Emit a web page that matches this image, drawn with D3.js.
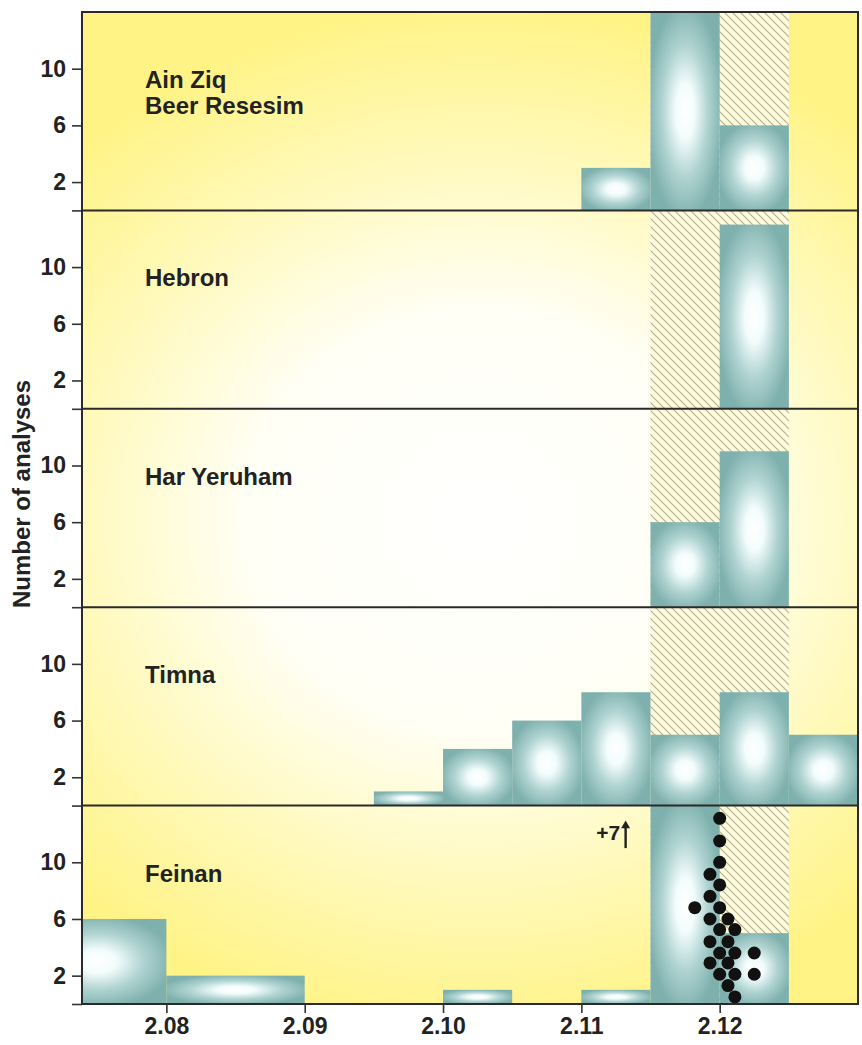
<!DOCTYPE html>
<html>
<head>
<meta charset="utf-8">
<script src="https://cdn.jsdelivr.net/npm/d3@7"></script>
<style>
  body { margin: 0; background: #fff; }
  svg { display: block; }
  text { font-family: "Liberation Sans", Arial, sans-serif; fill: #222; }
</style>
</head>
<body>
<svg id="chart" width="862" height="1045"></svg>
<script>
// Sitios (de arriba hacia abajo)
const siteNames = [["Ain Ziq", "Beer Resesim"], ["Hebron"], ["Har Yeruham"], ["Timna"], ["Feinan"]];

// Intervalos del histograma: [desde, hasta, número de análisis]
const ainZiqBins = [[2.110, 2.115, 3], [2.115, 2.120, 14], [2.120, 2.125, 6]];
const hebronBins = [[2.120, 2.125, 13]];
const harYeruhamBins = [[2.115, 2.120, 6], [2.120, 2.125, 11]];
const timnaBins = [[2.095, 2.100, 1], [2.100, 2.105, 4], [2.105, 2.110, 6], [2.110, 2.115, 8],
                   [2.115, 2.120, 5], [2.120, 2.125, 8], [2.125, 2.130, 5]];
const feinanBins = [[2.070, 2.080, 6], [2.080, 2.090, 2], [2.100, 2.105, 1], [2.110, 2.115, 1],
                    [2.115, 2.120, 14], [2.120, 2.125, 5]];
const allBins = [ainZiqBins, hebronBins, harYeruhamBins, timnaBins, feinanBins];

// Banda rayada (rango de referencia)
const hatchBand = [2.115, 2.125];

// Puntos individuales de Feinan
const feinanDotX = [2.1200, 2.1200, 2.1200, 2.1193, 2.1200, 2.1193, 2.1182, 2.1200, 2.1193, 2.1206,
                    2.1200, 2.1211, 2.1193, 2.1206, 2.1200, 2.1211, 2.1225, 2.1193, 2.1206, 2.1200,
                    2.1211, 2.1225, 2.1206, 2.1211];
const feinanDotY = [13.1, 11.5, 10.0, 9.15, 8.4, 7.6, 6.8, 6.8, 6.0, 6.0,
                    5.25, 5.25, 4.4, 4.4, 3.6, 3.6, 3.6, 2.9, 2.9, 2.1,
                    2.1, 2.1, 1.3, 0.5];

// Ejes
const xTicks = [2.08, 2.09, 2.10, 2.11, 2.12];
const yTicks = [0, 2, 6, 10];
const xDomain = [2.0739, 2.1300];
const yDomain = [0, 14];

const margin = { top: 12, right: 4, bottom: 41, left: 82 };
const W = 862, H = 1045;
const plotW = W - margin.left - margin.right;
const plotH = H - margin.top - margin.bottom;
const panelH = plotH / siteNames.length;

const svg = d3.select("#chart");
const defs = svg.append("defs");

// Fondo: degradado radial amarillo -> blanco
const bg = defs.append("radialGradient")
    .attr("id", "bgGrad")
    .attr("gradientUnits", "userSpaceOnUse")
    .attr("cx", 480).attr("cy", 520)
    .attr("r", 480)
    .attr("gradientTransform", "translate(480,520) scale(1.2,1.08) translate(-480,-520)");
[[0, "#ffffff"], [0.4, "#fffff6"], [0.72, "#fff9b8"], [1, "#fff385"]].forEach(s =>
    bg.append("stop").attr("offset", s[0]).attr("stop-color", s[1]));

// Barras: degradado turquesa con brillo central
const barGrad = defs.append("radialGradient")
    .attr("id", "barGrad")
    .attr("cx", 0.5).attr("cy", 0.5).attr("r", 0.55);
[[0, "#ffffff"], [0.25, "#f3fcfc"], [0.6, "#b0d4d2"], [1, "#7eb0ad"]].forEach(s =>
    barGrad.append("stop").attr("offset", s[0]).attr("stop-color", s[1]));

// Patrón rayado
const hatch = defs.append("pattern")
    .attr("id", "hatch")
    .attr("patternUnits", "userSpaceOnUse")
    .attr("width", 8).attr("height", 8);
hatch.append("rect").attr("width", 8).attr("height", 8).attr("fill", "#fdfae2");
hatch.append("path")
    .attr("d", "M-1,-1 L9,9 M-1,7 L1,9 M7,-1 L9,1")
    .attr("stroke", "#b9b286")
    .attr("stroke-width", 1.2);

defs.append("clipPath").attr("id", "plotClip")
    .append("rect")
    .attr("x", margin.left).attr("y", margin.top)
    .attr("width", plotW).attr("height", plotH);

const x = d3.scaleLinear().domain(xDomain).range([margin.left, margin.left + plotW]);

// Fondo general
svg.append("rect")
    .attr("x", margin.left).attr("y", margin.top)
    .attr("width", plotW).attr("height", plotH)
    .attr("fill", "url(#bgGrad)");

const plot = svg.append("g").attr("clip-path", "url(#plotClip)");

allBins.forEach((bins, i) => {
    const top = margin.top + i * panelH;
    const y = d3.scaleLinear().domain(yDomain).range([top + panelH, top]);

    // Banda rayada
    plot.append("rect")
        .attr("x", x(hatchBand[0]))
        .attr("y", top)
        .attr("width", x(hatchBand[1]) - x(hatchBand[0]))
        .attr("height", panelH)
        .attr("fill", "url(#hatch)");

    // Barras
    plot.append("g").selectAll("rect")
        .data(bins)
        .enter().append("rect")
        .attr("x", d => x(d[0]))
        .attr("y", d => y(Math.min(d[2], yDomain[1])))
        .attr("width", d => x(d[1]) - x(d[0]))
        .attr("height", d => y(0) - y(Math.min(d[2], yDomain[1])))
        .attr("fill", "url(#barGrad)");

    // Eje Y del panel
    svg.append("g")
        .attr("transform", `translate(${margin.left},0)`)
        .call(d3.axisLeft(y).tickValues(yTicks).tickSize(10).tickSizeOuter(0)
            .tickPadding(6).tickFormat(d => d === 0 ? "" : d))
        .call(g => g.select(".domain").remove())
        .call(g => g.selectAll("line").attr("stroke", "#333").attr("stroke-width", 1.6))
        .call(g => g.selectAll("text")
            .attr("font-size", 23).attr("font-weight", "bold").attr("fill", "#2a2a2a"));

    // Separador del panel
    if (i > 0) {
        svg.append("line")
            .attr("x1", margin.left).attr("x2", margin.left + plotW)
            .attr("y1", top).attr("y2", top)
            .attr("stroke", "#2a2a2a").attr("stroke-width", 2);
    }

    // Nombre del sitio
    const label = svg.append("text")
        .attr("x", 145)
        .attr("y", top + 76)
        .attr("font-size", 24)
        .attr("font-weight", "bold")
        .attr("fill", "#262626");
    siteNames[i].forEach((line, j) => {
        label.append("tspan")
            .attr("x", 145)
            .attr("dy", j === 0 ? 0 : 26)
            .text(line);
    });

    // Puntos y anotación de Feinan
    if (i === siteNames.length - 1) {
        svg.append("g").selectAll("circle")
            .data(feinanDotX.map((v, k) => [v, feinanDotY[k]]))
            .enter().append("circle")
            .attr("cx", d => x(d[0]))
            .attr("cy", d => y(d[1]))
            .attr("r", 6.5)
            .attr("fill", "#111");

        svg.append("text")
            .attr("x", x(2.1128))
            .attr("y", y(11.6))
            .attr("text-anchor", "end")
            .attr("font-size", 21)
            .attr("font-weight", "bold")
            .text("+7");

        const ax = x(2.1132);
        svg.append("line")
            .attr("x1", ax).attr("x2", ax)
            .attr("y1", y(11.0)).attr("y2", y(12.6))
            .attr("stroke", "#222").attr("stroke-width", 2.4);
        svg.append("path")
            .attr("d", `M${ax - 4.5},${y(12.4)} L${ax},${y(12.95)} L${ax + 4.5},${y(12.4)} Z`)
            .attr("fill", "#222");
    }
});

// Marco
svg.append("rect")
    .attr("x", margin.left).attr("y", margin.top)
    .attr("width", plotW).attr("height", plotH)
    .attr("fill", "none")
    .attr("stroke", "#2a2a2a")
    .attr("stroke-width", 2);

// Eje X
svg.append("g")
    .attr("transform", `translate(0,${margin.top + plotH})`)
    .call(d3.axisBottom(x).tickValues(xTicks).tickSize(9).tickSizeOuter(0)
        .tickPadding(5).tickFormat(d3.format(".2f")))
    .call(g => g.select(".domain").remove())
    .call(g => g.selectAll("line").attr("stroke", "#333").attr("stroke-width", 1.6))
    .call(g => g.selectAll("text")
        .attr("font-size", 23).attr("font-weight", "bold").attr("fill", "#2a2a2a"));

// Título del eje Y
svg.append("text")
    .attr("transform", `translate(30,494) rotate(-90)`)
    .attr("text-anchor", "middle")
    .attr("font-size", 24)
    .attr("font-weight", "bold")
    .attr("fill", "#2a2a2a")
    .text("Number of analyses");
</script>
</body>
</html>
